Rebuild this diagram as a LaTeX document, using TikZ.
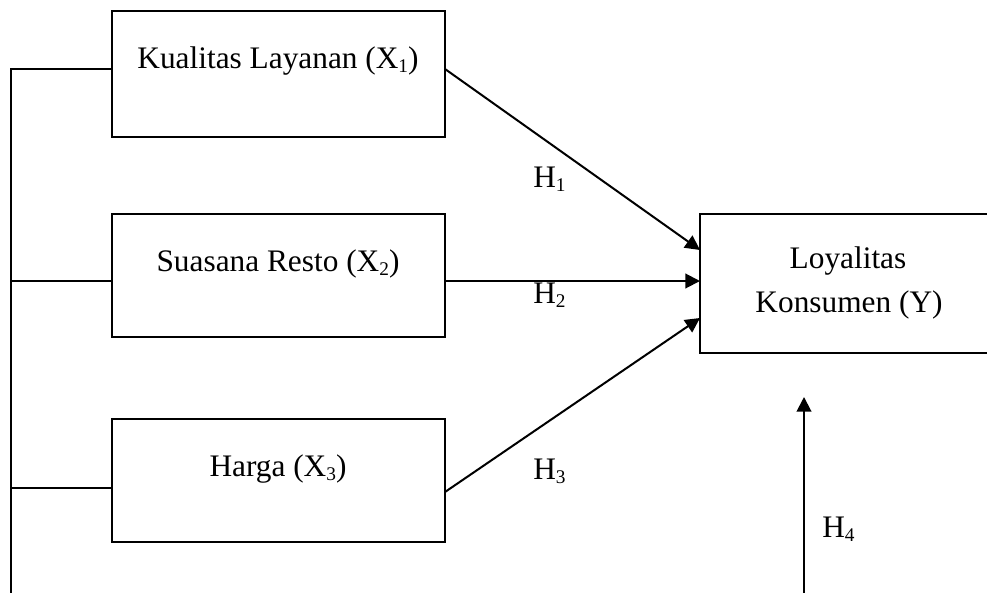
\documentclass[tikz,border=0pt]{standalone}
\usepackage{fontspec}
\setmainfont{Liberation Serif}
\usetikzlibrary{arrows.meta}
\newcommand{\lowidx}[1]{\raisebox{-3pt}{\fontsize{14.5pt}{14.5pt}\selectfont #1}}
\begin{document}
\begin{tikzpicture}[x=0.75pt,y=-0.75pt,
  boxnode/.style={draw, line width=1.3pt, rectangle, inner sep=0pt},
  txt/.style={anchor=base, inner sep=0pt, font=\fontsize{23.5pt}{28pt}\selectfont},
  conn/.style={line width=1.3pt},
  arr/.style={line width=1.5pt, -{Triangle[length=11pt,width=11pt]}}]
\useasboundingbox (0,0) rectangle (987,592);
% boxes
\node[boxnode, minimum width=250pt, minimum height=94.5pt] (b1) at (278.5,74) {};
\node[boxnode, minimum width=250pt, minimum height=92.25pt] (b2) at (278.5,275.5) {};
\node[boxnode, minimum width=250pt, minimum height=92.25pt] (b3) at (278.5,480.5) {};
\node[boxnode, minimum width=222pt, minimum height=104.25pt] (by) at (848,283.5) {};
% texts
\node[txt] (t1) at (278,69) {Kualitas Layanan (X\lowidx{1})};
\node[txt] (t2) at (278,271) {Suasana Resto (X\lowidx{2})};
\node[txt] (t3) at (278,476) {Harga (X\lowidx{3})};
\node[txt] (ty1) at (848,268) {Loyalitas};
\node[txt] (ty2) at (849,312) {Konsumen (Y)};
% left bus
\coordinate (l1) at (11,69);
\coordinate (l2) at (11,281);
\coordinate (l3) at (11,488);
\coordinate (lb) at (11,600);
\draw[conn] (lb) -- (l1) -- (l1 -| b1.west);
\draw[conn] (l2) -- (l2 -| b2.west);
\draw[conn] (l3) -- (l3 -| b3.west);
% arrows
\coordinate (s1) at (445,69);
\coordinate (e1) at (700,250);
\coordinate (s2) at (445,281);
\coordinate (e2) at (700,281);
\coordinate (s3) at (445,492);
\coordinate (e3) at (700,318);
\draw[arr] (s1) -- (e1);
\draw[arr] (s2) -- (e2);
\draw[arr] (s3) -- (e3);
\coordinate (hb) at (804,600);
\coordinate (ht) at (804,397);
\draw[arr] (hb) -- (ht);
% labels
\node[txt, anchor=base west] (h1) at (533,187) {H\lowidx{1}};
\node[txt, anchor=base west] (h2) at (533,303) {H\lowidx{2}};
\node[txt, anchor=base west] (h3) at (533,479) {H\lowidx{3}};
\node[txt, anchor=base west] (h4) at (822,537) {H\lowidx{4}};
\end{tikzpicture}
\end{document}
